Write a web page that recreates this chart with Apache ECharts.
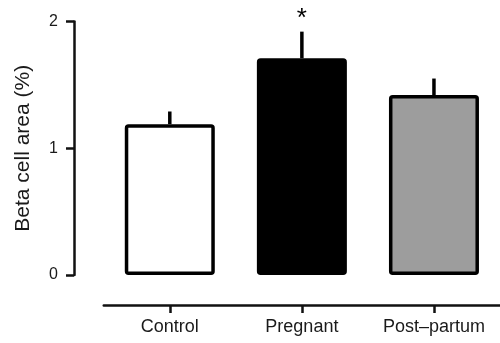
<!DOCTYPE html>
<html><head><meta charset="utf-8">
<script src="https://cdn.jsdelivr.net/npm/echarts@6/dist/echarts.min.js"></script>
<style>html,body{margin:0;padding:0;background:#fff}#c{width:500px;height:343px}</style>
</head><body><div id="c"></div>
<script>
var categories = ['Control', 'Pregnant', 'Post\u2013partum'];
var means = [1.19, 1.71, 1.42];
var upper = [1.29, 1.92, 1.55];
var barColors = ['#ffffff', '#000000', '#9d9d9d'];
var significance = ['', '*', ''];
var yTicks = [0, 1, 2];

var font = 'Liberation Sans, Arial, Helvetica, sans-serif';
var chart = echarts.init(document.getElementById('c'), null, {renderer: 'canvas'});
chart.setOption({
  animation: false,
  backgroundColor: '#ffffff',
  grid: {left: 103.75, right: -1.25, top: 21.5, bottom: 68},
  xAxis: {
    type: 'category', data: categories, position: 'bottom', offset: 30,
    axisLine: {show: true, onZero: false, lineStyle: {color: '#111', width: 2.5}},
    axisTick: {show: true, interval: 0, alignWithLabel: true, length: 8, lineStyle: {color: '#111', width: 2.5}},
    axisLabel: {show: true, interval: 0, hideOverlap: false, fontFamily: font, fontSize: 18, color: '#1a1a1a', margin: 13}
  },
  yAxis: {
    type: 'value', min: yTicks[0], max: yTicks[yTicks.length - 1], interval: 1, offset: 29.75,
    name: 'Beta cell area (%)', nameLocation: 'middle', nameGap: 40,
    nameTextStyle: {fontFamily: font, fontSize: 21, color: '#1a1a1a'},
    axisLine: {show: true, lineStyle: {color: '#111', width: 2.5}},
    axisTick: {show: true, length: 8, lineStyle: {color: '#111', width: 2.5}},
    axisLabel: {fontFamily: font, fontSize: 16, color: '#1a1a1a', margin: 16},
    splitLine: {show: false}
  },
  series: [
    {
      type: 'bar', barWidth: 90,
      data: means.map(function (v, i) {
        return {value: v, itemStyle: {color: barColors[i]}};
      }),
      itemStyle: {borderColor: '#000', borderWidth: 3.5, borderRadius: 2}
    },
    {
      type: 'custom', z: 5,
      data: means.map(function (m, i) { return [i, m, upper[i]]; }),
      renderItem: function (params, api) {
        var i = api.value(0);
        var p0 = api.coord([i, api.value(1)]);
        var p1 = api.coord([i, api.value(2)]);
        var children = [{
          type: 'line',
          shape: {x1: p0[0], y1: p0[1], x2: p1[0], y2: p1[1]},
          style: {stroke: '#000', lineWidth: 3.5}
        }];
        var s = significance[params.dataIndex];
        if (s) {
          children.push({
            type: 'text',
            style: {text: s, x: p1[0], y: p1[1] - 13, fill: '#000',
              font: '26px ' + font, textAlign: 'center', textVerticalAlign: 'middle'}
          });
        }
        return {type: 'group', children: children};
      }
    }
  ]
});
</script></body></html>
